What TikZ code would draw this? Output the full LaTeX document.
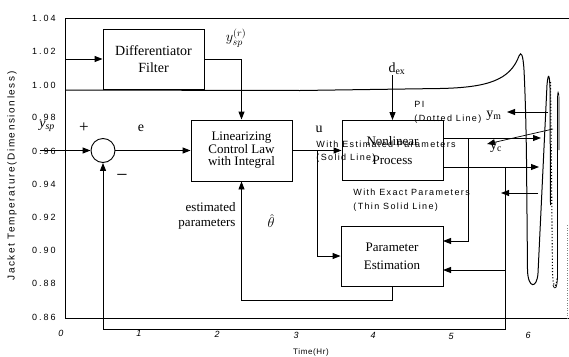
\documentclass[tikz,border=0pt]{standalone}
\usepackage{fontspec}
\setmainfont{Liberation Serif}
\newfontfamily\lgd[LetterSpace=15]{Liberation Sans}
\newfontfamily\tck[LetterSpace=22]{Liberation Sans}
\newfontfamily\tmf[LetterSpace=8]{Liberation Sans}
\newfontfamily\ylab[LetterSpace=16]{Liberation Sans}
\usetikzlibrary{arrows.meta}
\begin{document}
\begin{tikzpicture}[x=1pt,y=-1pt,line width=0.9pt,
  arr/.style={-{Triangle[length=8pt,width=6pt]}},
  blk/.style={draw,minimum width=101pt,minimum height=60pt,inner sep=0pt,align=center,font=\fontsize{13}{18}\selectfont},
  lgdtext/.style={font=\lgd\fontsize{9}{13.5}\selectfont,align=left,inner sep=0pt,anchor=west},
  ticklab/.style={font=\tck\fontsize{9}{9}\selectfont,inner sep=0pt},
  lab/.style={inner sep=0pt,font=\fontsize{14}{14}\selectfont}]
\useasboundingbox (0,0) rectangle (569,356);
% ---- plot frame ----
\draw[line width=0.8pt] (65,18) -- (569,18);
\draw[line width=0.8pt] (65,18) -- (65,318) -- (569,318);
\draw[dotted,line width=0.5pt,gray] (567,225) -- (567,318);
% tick labels
\foreach \v/\yy [count=\i] in {1.04/18,1.02/51.5,1.00/85,0.98/117.5,0.96/151,0.94/184.5,0.92/217,0.90/250,0.88/283.5,0.86/317}
  \node[ticklab,anchor=east] (ty\i) at (56,\yy) {\v};
\foreach \v/\xx/\yy [count=\i] in {0/61/333,1/139/333,2/217/334,3/296/335,4/373/335,5/451/336,6/528/335}
  \node[ticklab,font=\tck\itshape\fontsize{9}{9}\selectfont] (tx\i) at (\xx,\yy) {\v};
\node[inner sep=0pt,font=\tmf\fontsize{8}{8}\selectfont] (xlab) at (311,352) {Time(Hr)};
\node[inner sep=0pt,rotate=90,font=\ylab\fontsize{10}{10}\selectfont] (ylab) at (12,176) {Jacket Temperature(Dimensionless)};
% ---- curves ----
\draw[line width=1pt] (65,90) -- (300,90.5) -- (440,88.5)
  .. controls (488,87.5) and (510,80) .. (519,56)
  .. controls (521,51) and (523,54) .. (524,70)
  .. controls (525,90) and (526,120) .. (526.5,160) -- (527.5,270)
  .. controls (528,289) and (537,289) .. (538,273) -- (547,85)
  .. controls (548,73) and (549.5,73) .. (550,88) -- (550.5,205);
\draw[dotted,line width=1.1pt] (550.5,82) -- (552.5,273) .. controls (553,288) and (556,290) .. (557,278);
\draw[line width=0.7pt] (553,285) .. controls (555,291) and (557,288) .. (557.5,278) -- (557.5,100)
  .. controls (557.5,90) and (558.5,90) .. (559,98) -- (559,150);
% ---- legend texts ----
\node[lgdtext] (pi) at (414,112.5) {PI\\(Dotted Line)};
\node[lgdtext] (est) at (316,151.5) {With Estimated Parameters\\(Solid Line)};
\node[lgdtext] (exa) at (353,200) {With Exact Parameters\\(Thin Solid Line)};
% ---- blocks ----
\node[blk,font=\fontsize{14}{17}\selectfont] (diff) at (153.5,59) {Differentiator\\Filter};
\node[blk,minimum height=61pt,font=\fontsize{13}{12.5}\selectfont] (lin) at (241.5,150.5) {Linearizing\\Control Law\\with Integral};
\node[blk,font=\fontsize{13}{19}\selectfont] (proc) at (392.5,150.5) {Nonlinear\\Process};
\node[blk,minimum width=102pt] (pe) at (392,256) {Parameter\\Estimation};
\node[draw,circle,minimum size=24pt,inner sep=0pt] (sum) at (103,150.5) {};
% ---- coordinates ----
\coordinate (ysp) at (40,150.5);
\coordinate (dfin) at (65,59);
\coordinate (ub) at (317,150.5);
\coordinate (o1s) at (443,138);
\coordinate (o1e) at (541,138);
\coordinate (b1) at (468,138);
\coordinate (pe1) at (443,241);
\coordinate (o2s) at (443,167);
\coordinate (o2e) at (539,167);
\coordinate (b2) at (505,167);
\coordinate (fb) at (505,329);
\coordinate (b3) at (505,270);
\coordinate (pe2) at (443,270);
\coordinate (ymr) at (548,112);
\coordinate (yml) at (507,112);
\coordinate (ycr) at (553,129);
\coordinate (ycl) at (487,144);
\coordinate (exr) at (538,193);
\coordinate (exl) at (501,193);
% ---- connectors ----
\draw[arr] (dfin) -- (diff.west);
\draw[arr] (diff.east) -| (lin.north);
\draw[arr] (ysp) -- (sum.west);
\draw[arr] (sum.east) -- (lin.west);
\draw[arr] (lin.east) -- (proc.west);
\draw[arr] (ub) |- (pe.west);
\node[lab] (dex) at (397,69) {d\textsubscript{ex}};
\draw[arr] (dex.south -| proc.north) -- (proc.north);
\draw[arr] (o1s) -- (o1e);
\draw[arr] (b1) |- (pe1);
\draw[arr] (o2s) -- (o2e);
\draw[arr] (b2) -- (fb) -| (sum.south);
\draw[arr] (b3) -- (pe2);
\draw[arr] (pe.south) -- ++(0,14) -| (lin.south);
\draw[arr] (ymr) -- (yml);
\draw[arr,line width=0.7pt] (ycr) -- (ycl);
\draw[arr] (exr) -- (exl);
% ---- labels ----
\node[lab] (yspl) at (47,126) {\textit{y}\textsubscript{\textit{sp}}};
\node[lab,font=\fontsize{17}{17}\selectfont] (plus) at (84,128) {+};
\node[lab,font=\fontsize{20}{20}\selectfont] (minus) at (122,178) {−};
\node[lab] (el) at (141,128) {e};
\node[lab] (ul) at (319,129) {u};
\node[lab,font=\fontsize{14}{14}\selectfont] (ysprl) at (236,38) {$y_{sp}^{(r)}$};
\node[lab,font=\Large] (thl) at (271,221) {$\hat{\theta}$};
\node[inner sep=0pt,align=right,font=\fontsize{13}{15}\selectfont] (estp) at (207,215.5) {estimated\\parameters};
\node[lab] (ym) at (494,116) {y\textsubscript{m}};
\node[lab] (yc) at (496,148) {y\textsubscript{c}};
\end{tikzpicture}
\end{document}
